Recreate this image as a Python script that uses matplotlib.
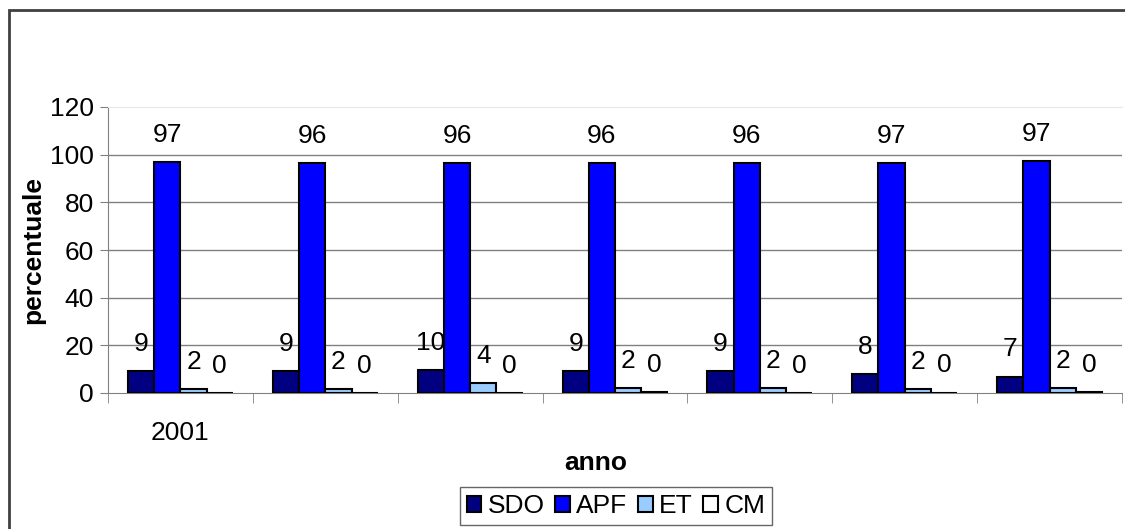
import numpy as np
import matplotlib
matplotlib.use('Agg')
import matplotlib.pyplot as plt
from matplotlib.patches import Rectangle

plt.rcParams['font.family'] = ['Liberation Sans', 'DejaVu Sans']

# data
anni = ['2001', '', '', '', '', '', '']
serie = ['SDO', 'APF', 'ET', 'CM']
sdo = [9.4, 9.3, 9.6, 9.3, 9.2, 8.0, 6.9]
apf = [96.9, 96.4, 96.4, 96.3, 96.4, 96.6, 97.4]
et = [1.6, 1.5, 4.3, 2.2, 2.1, 1.6, 2.2]
cm = [0.1, 0.0, 0.1, 0.4, 0.1, 0.2, 0.4]
colori = ['#000080', '#0000ff', '#99ccff', '#ffffff']

fs = 19

fig = plt.figure(figsize=(11.25, 5.29), dpi=100)
ax = fig.add_axes([108/1125, 1-393/529, 1014/1125, 286/529])

# outer chart frame (cut by the image edge on right and bottom)
fig.patches.append(Rectangle((9/1125, -0.05), 1.2, 1-10/529+0.05,
                             transform=fig.transFigure, fill=False,
                             edgecolor='#404040', linewidth=2))

x = np.arange(len(anni))
w = 0.181
for k, (vals, col) in enumerate(zip([sdo, apf, et, cm], colori)):
    pos = x + (k - 1.5) * w
    ax.bar(pos, vals, width=w, color=col, edgecolor='black', linewidth=1.5,
           label=serie[k], zorder=3)
    for px, v in zip(pos, vals):
        ax.annotate('%d' % int(round(v)), (px, v), xytext=(0, 19.5),
                    textcoords='offset points', ha='center', va='center',
                    fontsize=fs, zorder=4)

ax.set_xlim(-0.5, 6.5)
ax.set_ylim(0, 120)
ax.set_yticks(range(0, 121, 20))
ax.set_xticks(x)
ax.set_xticklabels(anni)
ax.set_xticks(np.arange(-0.5, 7, 1), minor=True)
ax.tick_params(axis='x', which='major', length=0, pad=20, labelsize=fs)
ax.tick_params(axis='x', which='minor', length=7, direction='out', color='#808080')
ax.tick_params(axis='y', length=6, direction='out', color='#808080', labelsize=fs, pad=4)

for yv in range(20, 101, 20):
    ax.axhline(yv, color='#808080', linewidth=1, zorder=1)

ax.spines['right'].set_visible(False)
ax.spines['top'].set_color('#e8e8e8')
ax.spines['left'].set_color('#808080')
ax.spines['bottom'].set_color('#808080')

fig.text(33/1125, 1-250/529, 'percentuale', rotation=90, ha='center', va='center',
         fontsize=fs, fontweight='bold')
fig.text(596/1125, 1-463/529, 'anno', ha='center', va='center',
         fontsize=fs, fontweight='bold')

leg = fig.legend(loc='center', bbox_to_anchor=(616/1125, 1-506/529), ncol=4,
                 fontsize=fs, frameon=True, fancybox=False, edgecolor='#404040',
                 handlelength=0.55, handleheight=0.55, handletextpad=0.25,
                 columnspacing=0.4, borderpad=0.25, borderaxespad=0)
leg.get_frame().set_linewidth(1)

fig.savefig('out.png', dpi=100)
